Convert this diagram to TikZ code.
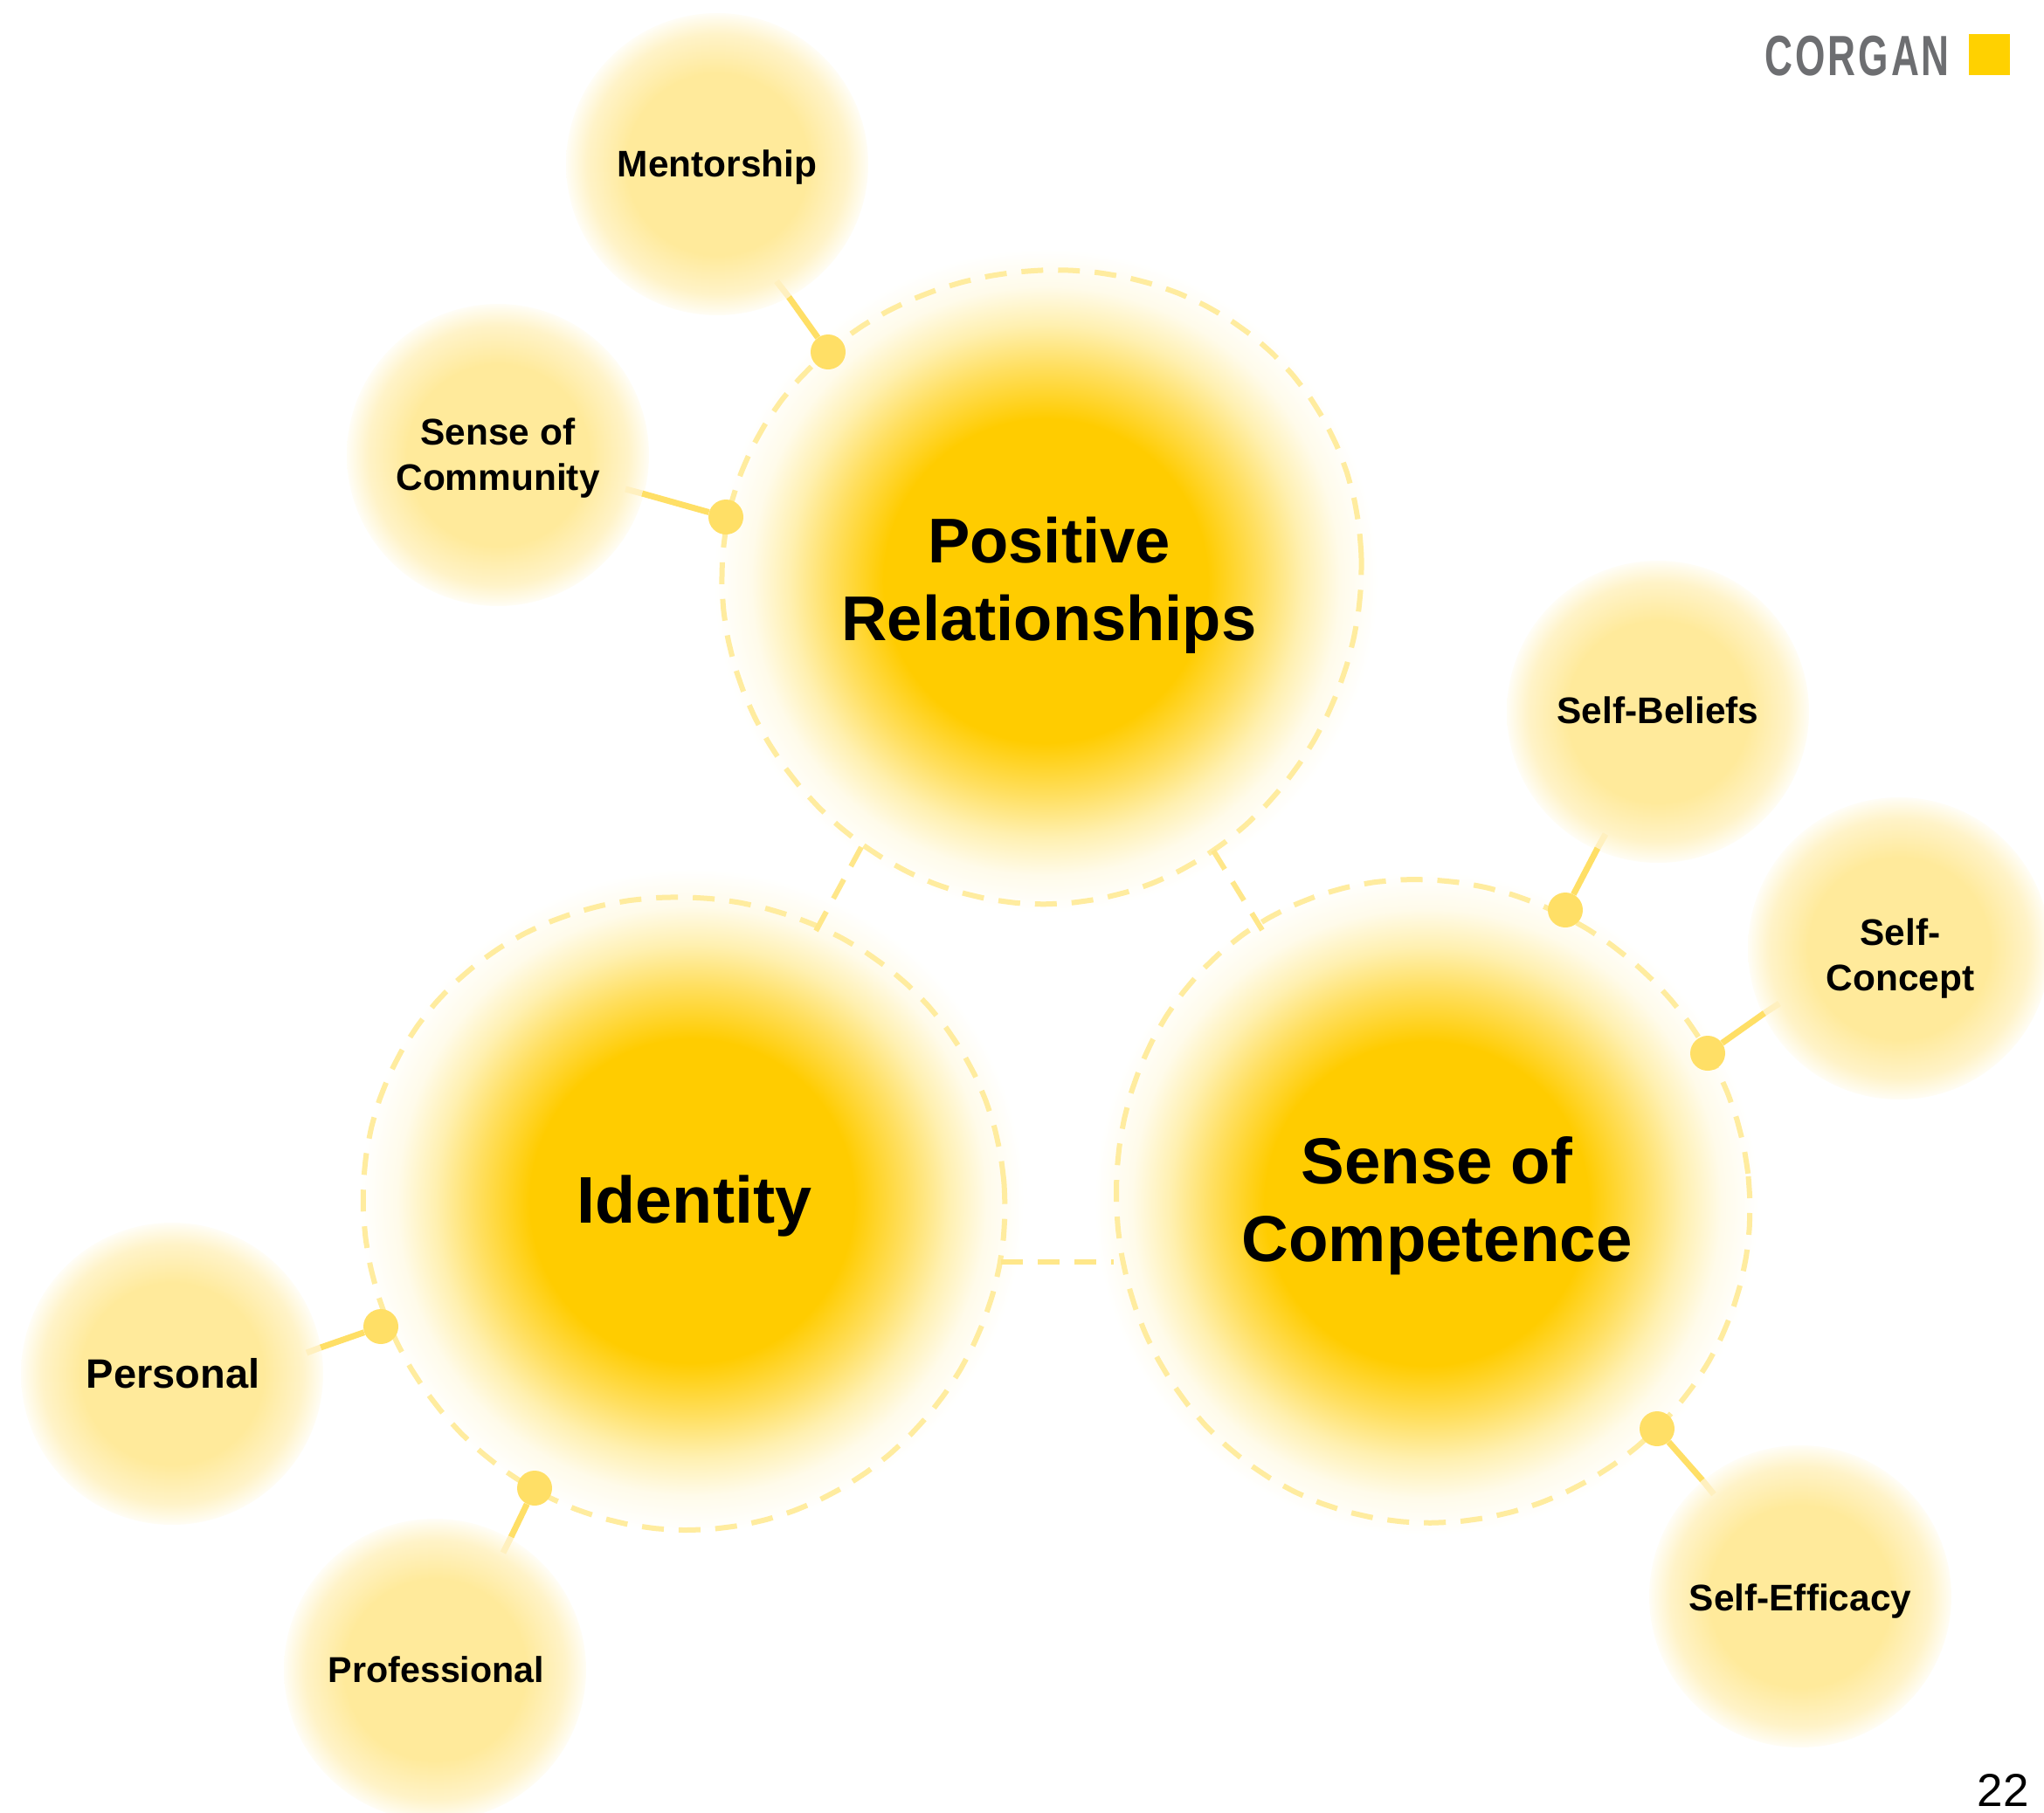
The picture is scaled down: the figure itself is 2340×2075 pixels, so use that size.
\documentclass[tikz,border=0pt]{standalone}
\usepackage{fontspec}
\setmainfont{Liberation Sans}
\newfontfamily\logofont[FakeStretch=0.68,LetterSpace=4.5]{Liberation Sans}
\definecolor{hubc}{HTML}{FFCC00}
\definecolor{hubb}{HTML}{FFDF60}
\definecolor{hubd}{HTML}{FFF0B0}
\definecolor{hube}{HTML}{FFFBEA}
\definecolor{haloc}{HTML}{FFEA9B}
\definecolor{halod}{HTML}{FFF3C8}
\definecolor{haloe}{HTML}{FFFBEB}
\definecolor{halof}{HTML}{FFFDF6}
\definecolor{ringc}{HTML}{FFEC9F}
\definecolor{linkc}{HTML}{FFE78A}
\definecolor{dotc}{HTML}{FFDF66}
\definecolor{faintc}{HTML}{FFF0BF}
\definecolor{logoc}{HTML}{6D6E71}
\definecolor{squarec}{HTML}{FFD100}
\pgfdeclareradialshading{hubglow}{\pgfpointorigin}{color(0bp)=(hubc); color(12.2bp)=(hubc); color(16.2bp)=(hubb); color(19.3bp)=(hubd); color(22.2bp)=(hube); color(25bp)=(white); color(50bp)=(white)}
\pgfdeclareradialshading{haloglow}{\pgfpointorigin}{color(0bp)=(haloc); color(15bp)=(haloc); color(21.5bp)=(halod); color(24.2bp)=(haloe); color(25bp)=(halof); color(50bp)=(halof)}
\tikzset{
  hubglownode/.style={circle,inner sep=0pt,minimum size=760pt,shade,shading=hubglow},
  halonode/.style={circle,inner sep=0pt,minimum size=346pt,shade,shading=haloglow},
  halolabel/.style={inner sep=0pt,align=center,font=\fontsize{42.4}{52}\selectfont\bfseries},
  ringline/.style={draw=ringc,line width=6pt,dash pattern=on 25pt off 17pt},
  ringplot/.style={domain=0:355,samples=72,smooth cycle,tension=0.34},
  hublabel/.style={inner sep=0pt,align=center},
  dotnode/.style={circle,inner sep=0pt,minimum size=40pt,fill=dotc},
  linkdash/.style={draw=linkc,line width=6pt,dash pattern=on 25pt off 17pt},
  conn/.style={draw=dotc,line width=7pt},
  connfaint/.style={draw=faintc,line width=7pt}
}
\newcommand{\hubring}[7]{\draw[ringline] plot[ringplot] ({#1+(#3+#4*cos(2*\x)+#5*sin(2*\x)+#6*cos(3*\x)+#7*sin(3*\x))*cos(\x)},{#2-(#3+#4*cos(2*\x)+#5*sin(2*\x)+#6*cos(3*\x)+#7*sin(3*\x))*sin(\x)});}
\begin{document}
\begin{tikzpicture}[x=1pt,y=-1pt]
\useasboundingbox (0,0) rectangle (2340,2075);
% hub glows
\node[hubglownode] (glowP) at (1197,665) {};
\node[hubglownode] (glowI) at (792,1375) {};
\node[hubglownode] (glowC) at (1633,1378) {};
% rings
\hubring{1194.3}{668.1}{364.4}{1.46}{2.96}{-2.0}{4.25}
\hubring{782.8}{1386.5}{364.8}{2.46}{-2.52}{0.42}{3.17}
\hubring{1637.5}{1375.6}{365.4}{-2.75}{-4.19}{3.17}{0}
% links between rings
\coordinate (linkPIa) at (986,970);
\coordinate (linkPIb) at (934,1066);
\coordinate (linkPCa) at (1389,974);
\coordinate (linkPCb) at (1445,1065);
\coordinate (linkICa) at (1146,1445);
\coordinate (linkICb) at (1275,1445);
\draw[linkdash] (linkPIa) -- (linkPIb);
\draw[linkdash] (linkPCa) -- (linkPCb);
\draw[linkdash] (linkICa) -- (linkICb);
% satellites
\node[halonode] (haloM) at (821,188) {};
\node[halonode] (haloS) at (570,521) {};
\node[halonode] (haloB) at (1898,815) {};
\node[halonode] (haloK) at (2174,1086) {};
\node[halonode] (haloE) at (2061,1828) {};
\node[halonode] (haloR) at (197,1573) {};
\node[halonode] (haloF) at (498,1912) {};
\node[halolabel] (textM) at (821,192) {Mentorship};
\node[halolabel] (textS) at (570,525) {Sense of\\Community};
\node[halolabel] (textB) at (1898,813.5) {Self-Beliefs};
\node[halolabel] (textK) at (2175.5,1098) {Self-\\Concept};
\node[halolabel] (textE) at (2061,1834) {Self-Efficacy};
\node[halolabel,font=\fontsize{47}{52}\selectfont\bfseries] (textR) at (198,1573) {Personal};
\node[halolabel,font=\fontsize{41.2}{52}\selectfont\bfseries] (textF) at (499.5,1912) {Professional};
% connector free ends
\coordinate (edgeM) at (903,340);
\coordinate (endM) at (889,322);
\coordinate (edgeS) at (735,565);
\coordinate (endS) at (716,560);
\coordinate (edgeB) at (1829,971);
\coordinate (endB) at (1838,955);
\coordinate (edgeK) at (2020,1160);
\coordinate (endK) at (2037,1149);
\coordinate (edgeE) at (1949,1695);
\coordinate (endE) at (1962,1711);
\coordinate (edgeR) at (367,1543);
\coordinate (endR) at (351,1549);
\coordinate (edgeF) at (585,1760);
\coordinate (endF) at (576,1778);
% dots
\node[dotnode] (dotM) at (948,403) {};
\node[dotnode] (dotS) at (831,592) {};
\node[dotnode] (dotB) at (1792,1042) {};
\node[dotnode] (dotK) at (1955,1206) {};
\node[dotnode] (dotE) at (1897,1636) {};
\node[dotnode] (dotR) at (436,1519) {};
\node[dotnode] (dotF) at (612,1704) {};
% connectors
\draw[conn] (dotM) -- (edgeM); \draw[connfaint] (edgeM) -- (endM);
\draw[conn] (dotS) -- (edgeS); \draw[connfaint] (edgeS) -- (endS);
\draw[conn] (dotB) -- (edgeB); \draw[connfaint] (edgeB) -- (endB);
\draw[conn] (dotK) -- (edgeK); \draw[connfaint] (edgeK) -- (endK);
\draw[conn] (dotE) -- (edgeE); \draw[connfaint] (edgeE) -- (endE);
\draw[conn] (dotR) -- (edgeR); \draw[connfaint] (edgeR) -- (endR);
\draw[conn] (dotF) -- (edgeF); \draw[connfaint] (edgeF) -- (endF);
% hub labels
\node[hublabel,font=\fontsize{72.4}{89}\selectfont\bfseries] (labelP) at (1201,670) {Positive\\Relationships};
\node[hublabel,font=\fontsize{75.5}{89}\selectfont\bfseries] (labelI) at (795,1381) {Identity};
\node[hublabel,font=\fontsize{74.5}{89}\selectfont\bfseries] (labelC) at (1645,1380.5) {Sense of\\Competence};
% logo and page number
\node[anchor=base east,inner sep=0pt,text=logoc,font=\logofont\fontsize{65}{65}\selectfont\bfseries] (logo) at (2232,86) {CORGAN};
\fill[squarec] (2254,39) rectangle (2301,86);
\node[anchor=base east,inner sep=0pt,font=\fontsize{53}{60}\selectfont] (page) at (2323,2068) {22};
\end{tikzpicture}
\end{document}
